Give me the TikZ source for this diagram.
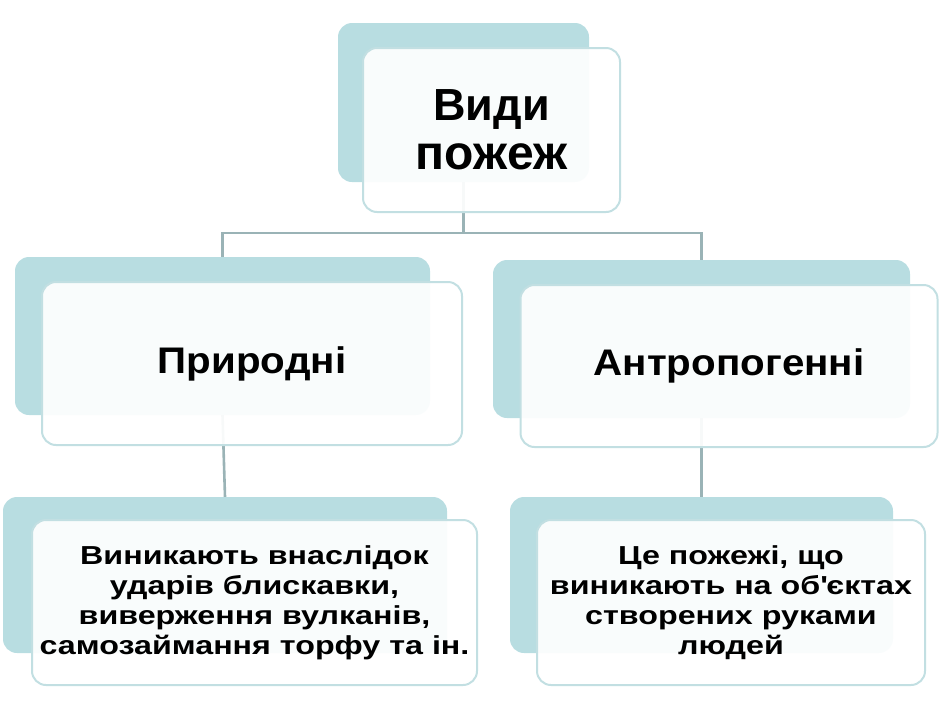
\documentclass[tikz,border=0pt]{standalone}
\usepackage{fontspec}
\setmainfont{Liberation Sans}
\newfontfamily\midfont{Liberation Sans}[FakeStretch=1.09]
\newfontfamily\lowfont{Liberation Sans}[FakeStretch=1.24]
\definecolor{backteal}{HTML}{B8DDE1}
\definecolor{frontedge}{HTML}{C2DFE2}
\definecolor{linkcol}{HTML}{9AB3B6}
\tikzset{
  backbox/.style={rectangle, rounded corners=14pt, fill=backteal, draw=none, inner sep=0pt},
  frontbox/.style={rectangle, rounded corners=14pt, fill=white, fill opacity=0.93, text opacity=1, draw=frontedge, line width=2pt, inner sep=0pt, align=center, font=\bfseries},
  link/.style={draw=linkcol, line width=2.6pt},
  toptext/.style={font=\bfseries\fontsize{46}{49}\selectfont},
  midtext/.style={font=\midfont\bfseries\fontsize{37}{44}\selectfont},
  lowtext/.style={font=\lowfont\bfseries\fontsize{26}{30}\selectfont},
}
\begin{document}
\begin{tikzpicture}[x=1pt,y=-1pt]
\useasboundingbox (0,0) rectangle (940,705);
% back boxes
\node[backbox, minimum width=251pt, minimum height=159pt] (tb) at (463.5,102.5) {};
\node[backbox, minimum width=415pt, minimum height=158pt] (lb) at (222.5,336) {};
\node[backbox, minimum width=417pt, minimum height=158pt] (rb) at (701.5,339) {};
\node[backbox, minimum width=444pt, minimum height=156pt] (blb) at (225,575) {};
\node[backbox, minimum width=383pt, minimum height=156pt] (brb) at (701.5,575) {};
% connectors
\coordinate (j) at (463.5,233);
\draw[link] (tb.south) -- (j);
\draw[link] (j) -| (lb.north);
\draw[link] (j) -| (rb.north);
\draw[link] (lb.south) -- (blb.north);
\draw[link] (rb.south) -- (brb.north);
% front boxes
\node[frontbox, toptext, minimum width=257pt, minimum height=164pt] (t) at (491.5,130) {{\fontsize{45}{49}\selectfont Види}\\{\fontsize{48}{49}\selectfont пожеж}};
\node[frontbox, midtext, minimum width=420pt, minimum height=163pt] (l) at (252,363.5) {Природні};
\node[frontbox, midtext, minimum width=417pt, minimum height=162pt] (r) at (729,366) {Антропогенні};
\node[frontbox, lowtext, minimum width=445pt, minimum height=165pt] (bl) at (254.5,602.5) {Виникають внаслідок\\ударів блискавки,\\виверження вулканів,\\самозаймання торфу та ін.};
\node[frontbox, lowtext, minimum width=388pt, minimum height=165pt] (br) at (731,602.5) {Це пожежі, що\\виникають на об\textquotesingle єктах\\створених руками\\людей};
\end{tikzpicture}
\end{document}
